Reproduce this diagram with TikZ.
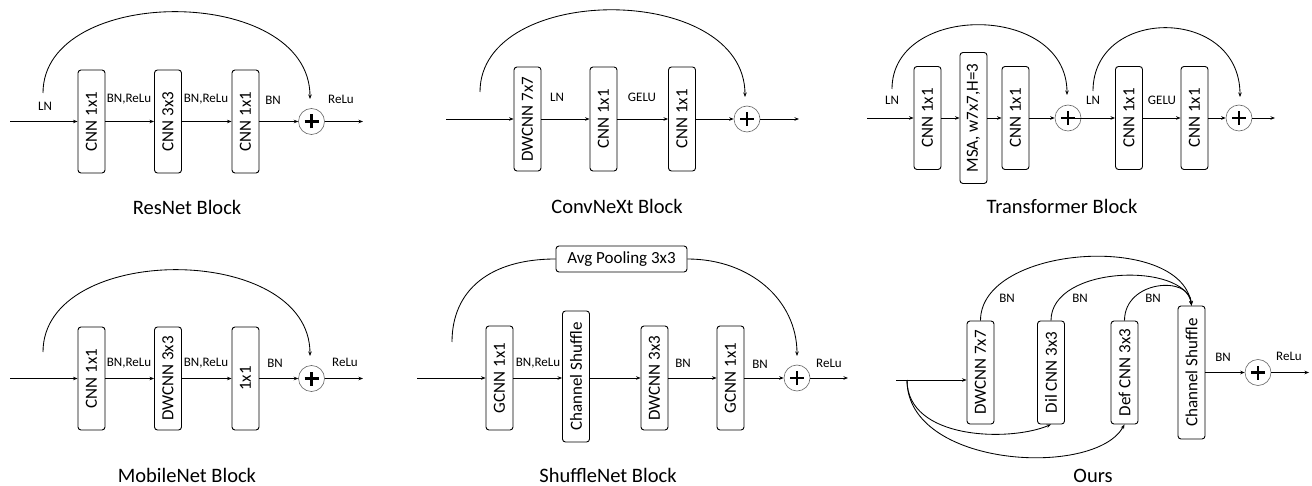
\documentclass[tikz,border=0pt]{standalone}
\usepackage{fontspec}
\setmainfont{Carlito}
\usepackage{graphicx}
\usetikzlibrary{arrows.meta}
\newcommand\vtxt[1]{\rotatebox{90}{#1}}
\begin{document}
\begin{tikzpicture}[x=1pt,y=-1pt,
  blk/.style={draw, line width=0.9pt, rounded corners=3pt, minimum width=27pt,
    minimum height=103pt, inner sep=0pt, font=\fontsize{17}{17}\selectfont},
  lbl/.style={font=\fontsize{13}{13}\selectfont, inner sep=0pt},
  ttl/.style={font=\fontsize{20.5}{20.5}\selectfont, inner sep=0pt, anchor=base},
  sumnode/.style={circle, draw=black!60, line width=0.6pt, minimum size=26pt, inner sep=0pt,
    path picture={
      \draw[line width=2.2pt,black] ([xshift=-7pt]path picture bounding box.center) -- ([xshift=7pt]path picture bounding box.center);
      \draw[line width=2.2pt,black] ([yshift=-7pt]path picture bounding box.center) -- ([yshift=7pt]path picture bounding box.center);}},
  arr/.style={-{Stealth[length=4.5pt,width=3.5pt]}, line width=0.85pt},
  ln/.style={line width=0.85pt}
]
\useasboundingbox (0,0) rectangle (1312,486);

% ---------------- ResNet block ----------------
\coordinate (r-in) at (10,121.5);
\node[blk] (r-b1) at (91.5,121.5) {\vtxt{CNN 1x1}};
\node[blk] (r-b2) at (168,121.5) {\vtxt{CNN 3x3}};
\node[blk] (r-b3) at (245.5,121.5) {\vtxt{CNN 1x1}};
\node[sumnode] (r-sum) at (311.5,121.5) {};
\coordinate (r-out) at (363,121.5);
\coordinate (r-s) at (43,93);
\coordinate (r-e) at (310,99);
\draw[arr] (r-in) -- (r-b1);
\draw[arr] (r-b1) -- (r-b2);
\draw[arr] (r-b2) -- (r-b3);
\draw[arr] (r-b3) -- (r-sum);
\draw[arr] (r-sum) -- (r-out);
\draw[arr] (r-s) .. controls (43,-16) and (310,-16) .. (r-e);
\node[lbl] (r-l1) at (45,106) {LN};
\node[lbl] (r-l2) at (129,99) {BN,ReLu};
\node[lbl] (r-l3) at (206,99) {BN,ReLu};
\node[lbl] (r-l4) at (273,100) {BN};
\node[lbl] (r-l5) at (341,99) {ReLu};
\node[ttl] (r-t) at (187,215) {ResNet Block};

% ---------------- ConvNeXt block ----------------
\coordinate (c-in) at (446,119);
\node[blk, minimum height=104pt] (c-b1) at (527.5,119) {\vtxt{DWCNN 7x7}};
\node[blk, minimum height=104pt] (c-b2) at (603.5,119) {\vtxt{CNN 1x1}};
\node[blk, minimum height=104pt] (c-b3) at (682,119) {\vtxt{CNN 1x1}};
\node[sumnode] (c-sum) at (747,119) {};
\coordinate (c-out) at (799,119);
\coordinate (c-s) at (480,92);
\coordinate (c-e) at (745,97);
\draw[arr] (c-in) -- (c-b1);
\draw[arr] (c-b1) -- (c-b2);
\draw[arr] (c-b2) -- (c-b3);
\draw[arr] (c-b3) -- (c-sum);
\draw[arr] (c-sum) -- (c-out);
\draw[arr] (c-s) .. controls (480,-18) and (745,-18) .. (c-e);
\node[lbl] (c-l1) at (557,97) {LN};
\node[lbl] (c-l2) at (642,97) {GELU};
\node[ttl] (c-t) at (617,214) {ConvNeXt Block};

% ---------------- Transformer block ----------------
\coordinate (t-in) at (867,118);
\node[blk] (t-b1) at (927.5,118) {\vtxt{CNN 1x1}};
\node[blk, minimum height=131pt] (t-b2) at (973.5,118) {\vtxt{MSA, w7x7,H=3}};
\node[blk] (t-b3) at (1015.5,118) {\vtxt{CNN 1x1}};
\node[sumnode] (t-s1) at (1068,118) {};
\node[blk] (t-b4) at (1129,118) {\vtxt{CNN 1x1}};
\node[blk] (t-b5) at (1194.5,118) {\vtxt{CNN 1x1}};
\node[sumnode] (t-s2) at (1239,118) {};
\coordinate (t-out) at (1275,118);
\coordinate (t-a1s) at (892,89);
\coordinate (t-a1e) at (1067,95);
\coordinate (t-a2s) at (1093,91);
\coordinate (t-a2e) at (1240,97);
\draw[arr] (t-in) -- (t-b1);
\draw[arr] (t-b1) -- (t-b2);
\draw[arr] (t-b2) -- (t-b3);
\draw[arr] (t-b3) -- (t-s1);
\draw[arr] (t-s1.center) -- (t-b4);
\draw[arr] (t-b4) -- (t-b5);
\draw[arr] (t-b5) -- (t-s2);
\draw[arr] (t-s2) -- (t-out);
\draw[arr] (t-a1s) .. controls (892,2.7) and (1067,2.7) .. (t-a1e);
\draw[arr] (t-a2s) .. controls (1093,6) and (1240,6) .. (t-a2e);
\node[lbl] (t-l1) at (892,100) {LN};
\node[lbl] (t-l2) at (1093,100) {LN};
\node[lbl] (t-l3) at (1162,100) {GELU};
\node[ttl] (t-t) at (1062,214) {Transformer Block};

% ---------------- MobileNet block ----------------
\coordinate (m-in) at (10,378.5);
\node[blk] (m-b1) at (91.5,378.5) {\vtxt{CNN 1x1}};
\node[blk] (m-b2) at (168,378.5) {\vtxt{DWCNN 3x3}};
\node[blk] (m-b3) at (245.5,378.5) {\vtxt{1x1}};
\node[sumnode] (m-sum) at (311.5,378.5) {};
\coordinate (m-out) at (363,378.5);
\coordinate (m-s) at (43,352);
\coordinate (m-e) at (310,356);
\draw[arr] (m-in) -- (m-b1);
\draw[arr] (m-b1) -- (m-b2);
\draw[arr] (m-b2) -- (m-b3);
\draw[arr] (m-b3) -- (m-sum);
\draw[arr] (m-sum) -- (m-out);
\draw[arr] (m-s) .. controls (43,242) and (310,242) .. (m-e);
\node[lbl] (m-l1) at (129,363) {BN,ReLu};
\node[lbl] (m-l2) at (206,363) {BN,ReLu};
\node[lbl] (m-l3) at (275,363) {BN};
\node[lbl] (m-l4) at (345,362) {ReLu};
\node[ttl] (m-t) at (187,482.5) {MobileNet Block};

% ---------------- ShuffleNet block ----------------
\node[blk, minimum width=131pt, minimum height=26pt] (s-avg) at (621.5,259) {Avg Pooling 3x3};
\coordinate (s-in) at (417,378);
\node[blk, minimum height=104pt] (s-b1) at (499.5,378) {\vtxt{GCNN 1x1}};
\node[blk, minimum height=131pt] (s-b2) at (576,376.5) {\vtxt{Channel Shuffle}};
\node[blk, minimum height=104pt] (s-b3) at (654.5,378) {\vtxt{DWCNN 3x3}};
\node[blk, minimum height=104pt] (s-b4) at (730.5,378) {\vtxt{GCNN 1x1}};
\node[sumnode] (s-sum) at (797,378) {};
\coordinate (s-out) at (848,378);
\coordinate (s-s) at (452,342);
\coordinate (s-e) at (797,356);
\draw[arr] (s-in) -- (s-b1);
\draw[arr] (s-b1.east) -- (s-b1.east -| s-b2.west);
\draw[arr] (s-b3.west -| s-b2.east) -- (s-b3.west);
\draw[arr] (s-b3) -- (s-b4);
\draw[arr] (s-b4) -- (s-sum);
\draw[arr] (s-sum) -- (s-out);
\draw[ln] (s-s) .. controls (452,290) and (490,259) .. (s-avg.west);
\draw[arr] (s-avg.east) .. controls (750,259) and (797,300) .. (s-e);
\node[lbl] (s-l1) at (538,363) {BN,ReLu};
\node[lbl] (s-l2) at (683,363) {BN};
\node[lbl] (s-l3) at (760,364) {BN};
\node[lbl] (s-l4) at (829,363) {ReLu};
\node[ttl] (s-t) at (608,482.5) {ShuffleNet Block};

% ---------------- Proposed block ----------------
\coordinate (o-in) at (896,380);
\coordinate (o-split) at (907,380);
\node[blk] (o-b1) at (980.5,372.5) {\vtxt{DWCNN 7x7}};
\node[blk] (o-b2) at (1051,372.5) {\vtxt{Dil CNN 3x3}};
\node[blk] (o-b3) at (1124.5,372.5) {\vtxt{Def CNN 3x3}};
\node[blk, minimum height=133pt] (o-b4) at (1191.5,372.5) {\vtxt{Channel Shuffle}};
\node[sumnode] (o-sum) at (1258,372.5) {};
\coordinate (o-out) at (1309,372.5);
\draw[arr] (o-in) -- (o-in -| o-b1.west);
\draw[arr] (o-split) .. controls (907,440) and (1010,442) .. (o-b2.south);
\draw[arr] (o-split) .. controls (907,468) and (1095,478) .. (o-b3.south);
\draw[arr] (o-b1.north) .. controls (980.5,245) and (1180,232) .. (o-b4.north);
\draw[arr] (o-b2.north) .. controls (1051,265) and (1185,262) .. (o-b4.north);
\draw[arr] (o-b3.north) .. controls (1124.5,280) and (1190,275) .. (o-b4.north);
\draw[arr] (o-b4) -- (o-sum);
\draw[arr] (o-sum) -- (o-out);
\node[lbl] (o-l1) at (1007,298) {BN};
\node[lbl] (o-l2) at (1080,298) {BN};
\node[lbl] (o-l3) at (1153,298) {BN};
\node[lbl] (o-l4) at (1223,357) {BN};
\node[lbl] (o-l5) at (1289,356) {ReLu};
\node[ttl] (o-t) at (1093,482.5) {Ours};
\end{tikzpicture}
\end{document}
